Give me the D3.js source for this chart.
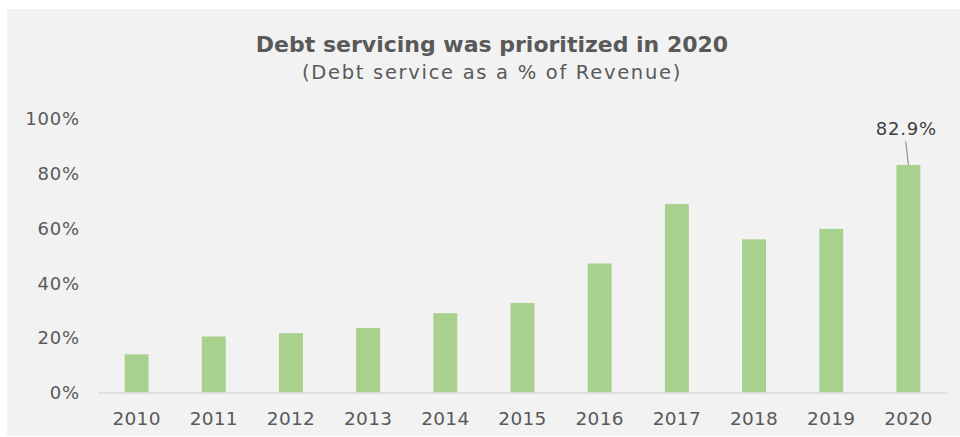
<!DOCTYPE html>
<html>
<head>
<meta charset="utf-8">
<script src="https://cdn.jsdelivr.net/npm/d3@7"></script>
<style>
  html, body { margin: 0; padding: 0; background: #ffffff; }
  svg { display: block; }
</style>
</head>
<body>
<svg id="chart" width="960" height="437"></svg>
<script>
// Debt service as a share of revenue, by year
const years = ["2010", "2011", "2012", "2013", "2014", "2015", "2016", "2017", "2018", "2019", "2020"];
const debtShare = [13.9, 20.4, 21.6, 23.5, 28.9, 32.6, 47.0, 68.7, 55.8, 59.6, 82.9];
const yTicks = [0, 20, 40, 60, 80, 100];
const labelledYear = "2020";

const titleText = "Debt servicing was prioritized in 2020";
const subtitleText = "(Debt service as a % of Revenue)";

const W = 960, H = 437;
const textColor = "#595959";
const font = "'DejaVu Sans', Verdana, sans-serif";

const svg = d3.select("#chart");

// Chart area background
svg.append("rect")
  .attr("x", 7).attr("y", 9)
  .attr("width", W - 7).attr("height", H - 10)
  .attr("fill", "#f2f2f2");

const x = d3.scaleBand()
  .domain(years)
  .range([98, 947])
  .paddingInner(0.69)
  .paddingOuter(0.345);

const y = d3.scaleLinear()
  .domain([0, 100])
  .range([392.5, 118]);

// Titles
svg.append("text")
  .attr("x", 492).attr("y", 52)
  .attr("text-anchor", "middle")
  .attr("font-family", font)
  .attr("font-weight", "bold")
  .attr("font-size", 22)
  .attr("fill", textColor)
  .text(titleText);

svg.append("text")
  .attr("x", 492).attr("y", 78.5)
  .attr("text-anchor", "middle")
  .attr("font-family", font)
  .attr("font-size", 19.5)
  .attr("letter-spacing", 1.7)
  .attr("fill", textColor)
  .text(subtitleText);

// Y axis labels (no line)
const yAxis = d3.axisLeft(y)
  .tickValues(yTicks)
  .tickFormat(d => d + "%")
  .tickSize(0)
  .tickPadding(0);

const yg = svg.append("g")
  .attr("transform", "translate(80,0)")
  .call(yAxis);
yg.select(".domain").remove();
yg.selectAll("text")
  .attr("font-family", font)
  .attr("font-size", 18)
  .attr("letter-spacing", 0.8)
  .attr("fill", textColor)
  .attr("dy", "0.35em");

// Bars
svg.append("g")
  .selectAll("rect")
  .data(years.map((yr, i) => ({ year: yr, value: debtShare[i] })))
  .join("rect")
  .attr("x", d => x(d.year))
  .attr("y", d => y(d.value))
  .attr("width", x.bandwidth())
  .attr("height", d => y(0) - y(d.value))
  .attr("fill", "#a9d18e");

// X axis with baseline
const xAxis = d3.axisBottom(x).tickSize(0).tickPadding(0);
const xg = svg.append("g")
  .attr("transform", `translate(0,${y(0)})`)
  .call(xAxis);
xg.select(".domain")
  .attr("stroke", "#d9d9d9")
  .attr("stroke-width", 1.5);
xg.selectAll("text")
  .attr("font-family", font)
  .attr("font-size", 18.5)
  .attr("letter-spacing", 0.3)
  .attr("fill", textColor)
  .attr("dy", "0")
  .attr("y", 32);

// Data label with leader line for the final year
const li = years.indexOf(labelledYear);
const lv = debtShare[li];
const cx = x(labelledYear) + x.bandwidth() / 2;
svg.append("line")
  .attr("x1", cx - 2.7).attr("y1", y(lv) - 23.5)
  .attr("x2", cx).attr("y2", y(lv))
  .attr("stroke", "#7f7f7f")
  .attr("stroke-width", 1);
svg.append("text")
  .attr("x", cx - 2).attr("y", y(lv) - 30)
  .attr("text-anchor", "middle")
  .attr("font-family", font)
  .attr("font-size", 18)
  .attr("letter-spacing", 0.8)
  .attr("fill", "#404040")
  .text(lv.toFixed(1) + "%");
</script>
</body>
</html>
